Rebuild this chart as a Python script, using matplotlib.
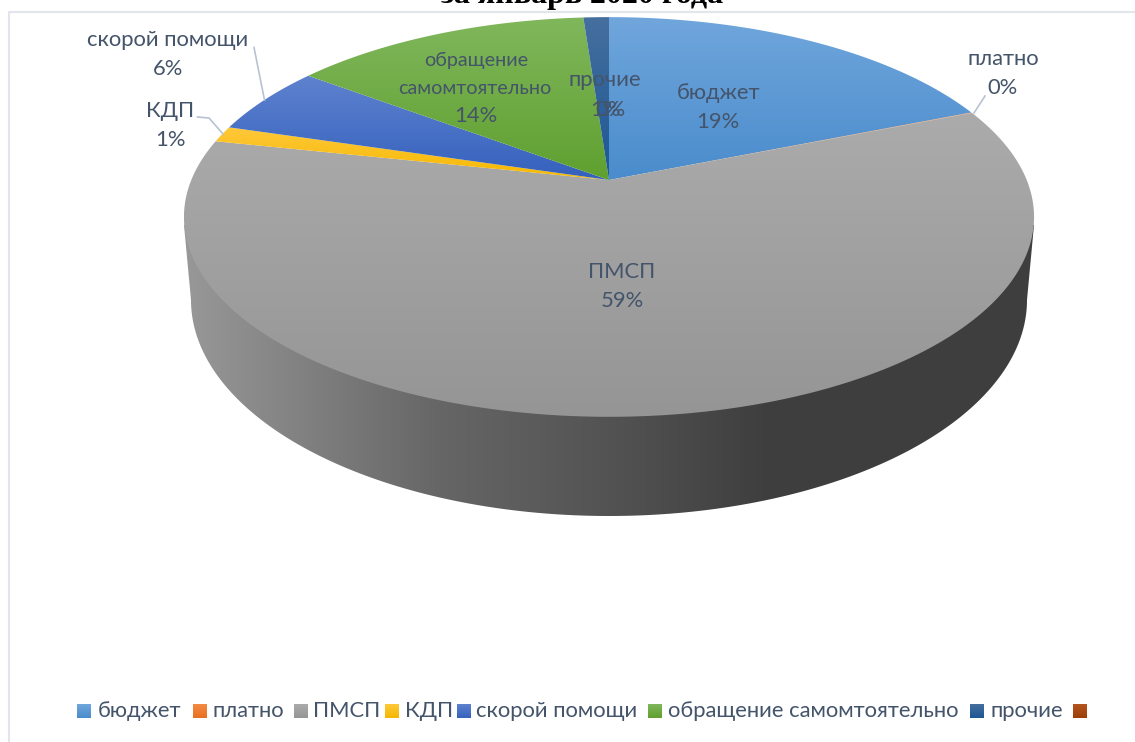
import numpy as np
import matplotlib
matplotlib.use("Agg")
from matplotlib import pyplot as plt
from matplotlib.colors import LinearSegmentedColormap
from matplotlib.patches import Polygon

categories = ["бюджет", "платно", "ПМСП", "КДП", "скорой помощи", "обращение самомтоятельно", "прочие", ""]
values = [18.9, 0.04, 59.4, 1.3, 5.6, 13.6, 1.16, 0]
top_colors = ["#70a6dc", "#f58a44", "#ababab", "#ffc83a", "#5f82cf", "#80b75c", "#456f9f", "#b4541f"]
bottom_colors = ["#4a8ccc", "#e8701f", "#959595", "#f5b800", "#3461bd", "#5fa02f", "#1d5793", "#9c3f06"]
title = "за январь 2020 года"

plt.rcParams["font.family"] = ["Lato", "Open Sans", "DejaVu Sans"]
TEXT = "#44546a"
LEADER = "#b8c2d2"
FS = 15.8

fig = plt.figure(figsize=(11.35, 7.42), dpi=100)
ax = fig.add_axes([0, 0, 1, 1])


def project(theta):
    # угол от вершины по часовой -> точка на диске с перспективой
    x, y = np.sin(theta), np.cos(theta)
    w = 1 + 0.185 * y
    return 609 + 417.7 * x / w, 180 - 193 * y / w


def grad_fill(xy, c1, c2, zorder):
    poly = Polygon(xy, closed=True, facecolor="none", edgecolor="none")
    ax.add_patch(poly)
    x0, y0, x1, y1 = xy[:, 0].min(), xy[:, 1].min(), xy[:, 0].max(), xy[:, 1].max()
    cmap = LinearSegmentedColormap.from_list("g", [c1, c2])
    img = np.linspace(0, 1, 256).reshape(-1, 1)
    im = ax.imshow(img, cmap=cmap, extent=(x0, x1, y1, y0), aspect="auto", zorder=zorder, interpolation="bilinear")
    im.set_clip_path(poly)


# боковая стенка
t = np.linspace(0, np.pi, 300)
wall_x = np.r_[184, 609 - 418 * np.cos(t), 1034]
wall_y = np.r_[225, 300 + 216 * np.sin(t), 225]
wall = Polygon(np.c_[wall_x, wall_y], closed=True, facecolor="none", edgecolor="none")
ax.add_patch(wall)
wall_cmap = LinearSegmentedColormap.from_list(
    "wall", [(0, "#989898"), (0.3, "#666666"), (0.5, "#535353"), (0.68, "#3f3f3f"), (1, "#3e3e3e")])
im = ax.imshow(np.linspace(0, 1, 512).reshape(1, -1), cmap=wall_cmap, extent=(184, 1034, 520, 220),
               aspect="auto", zorder=1)
im.set_clip_path(wall)

# секторы
total = sum(values)
start = 0.0
for val, c1, c2 in zip(values, top_colors, bottom_colors):
    end = start + val / total
    if val > 0:
        n = max(int(val * 8), 4)
        th = 2 * np.pi * np.linspace(start, end, n)
        px, py = project(th)
        xy = np.c_[np.r_[609, px], np.r_[180, py]]
        grad_fill(xy, c1, c2, 2)
    start = end

# подписи
name_pos = {0: (718, 93), 1: (1003, 59), 2: (622, 272), 3: (170, 111), 4: (168, 40), 6: (605, 80)}
pct_pos = [(718, 122), (1003, 88), (622, 301), (170, 140), (168, 69), (476, 116), (605, 110), (611, 110)]
for i, pos in name_pos.items():
    ax.text(pos[0], pos[1], categories[i], color=TEXT, fontsize=FS, ha="center", va="center", zorder=5)
ax.text(476, 60, "обращение", color=TEXT, fontsize=14.2, ha="center", va="center", zorder=5)
ax.text(475, 89, "самомтоятельно", color=TEXT, fontsize=14.2, ha="center", va="center", zorder=5)
for val, pos in zip(values, pct_pos):
    ax.text(pos[0], pos[1], f"{val / total * 100:.0f}%", color=TEXT, fontsize=FS, ha="center", va="center", zorder=5)

# выноски
ax.plot([254, 264.5], [47.5, 100], color=LEADER, lw=1.2, zorder=3)
ax.plot([197.5, 209, 223], [117, 118, 134], color=LEADER, lw=1.2, zorder=3)
ax.plot([985, 974], [96, 113], color=LEADER, lw=1.2, zorder=3)

# легенда
swatch_x = [77, 193, 294, 385, 457, 648, 970, 1073]
text_x = [98, 213, 313, 405, 476, 668, 990, 0]
for i, (name, sx, tx) in enumerate(zip(categories, swatch_x, text_x)):
    xy = np.array([[sx, 704], [sx + 14, 704], [sx + 14, 718], [sx, 718]])
    grad_fill(xy, top_colors[i], bottom_colors[i], 4)
    if name:
        ax.text(tx, 711, name, color=TEXT, fontsize=FS, ha="left", va="center", zorder=5)

# рамка и заголовок
ax.plot([1135, 9, 9], [12, 12, 742], color="#e2e6ec", lw=1.5, zorder=0)
ax.text(582, 3, title, fontfamily="Liberation Serif", fontweight="bold", fontsize=23, color="black",
        ha="center", va="baseline", clip_on=False)

ax.set_xlim(0, 1135)
ax.set_ylim(742, 0)
ax.axis("off")
fig.savefig("out.png", dpi=100, facecolor="white")
